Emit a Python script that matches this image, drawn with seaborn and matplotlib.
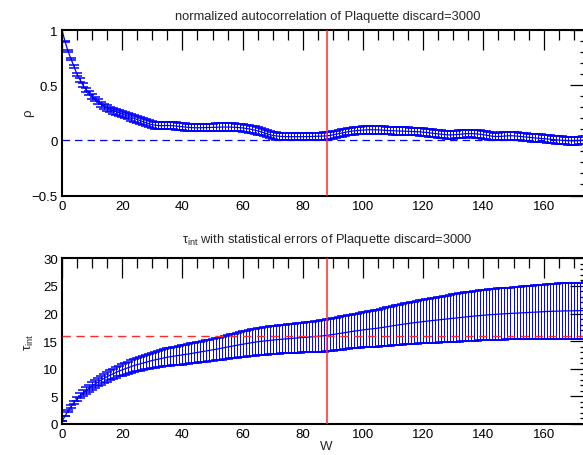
import matplotlib
matplotlib.use("Agg")
import matplotlib.pyplot as plt
import seaborn as sns
import pandas as pd
from matplotlib.ticker import MultipleLocator, FuncFormatter

# ---------------- data ----------------
W = list(range(176))

rho = [
    1.0, 0.9, 0.81, 0.74, 0.67, 0.6, 0.55, 0.5, 0.46, 0.43,
    0.4, 0.375, 0.35, 0.33, 0.31, 0.295, 0.28, 0.27, 0.26, 0.25,
    0.24, 0.23, 0.22, 0.21, 0.2, 0.19, 0.18, 0.17, 0.16, 0.15,
    0.143, 0.138, 0.135, 0.134, 0.135, 0.136, 0.135, 0.133, 0.13, 0.127,
    0.124, 0.121, 0.118, 0.116, 0.115, 0.115, 0.115, 0.116, 0.117, 0.118,
    0.119, 0.12, 0.121, 0.122, 0.122, 0.122, 0.121, 0.12, 0.118, 0.116,
    0.114, 0.11, 0.105, 0.1, 0.094, 0.087, 0.079, 0.07, 0.061, 0.053,
    0.046, 0.041, 0.038, 0.036, 0.035, 0.034, 0.034, 0.034, 0.034, 0.034,
    0.034, 0.035, 0.035, 0.036, 0.036, 0.037, 0.038, 0.039, 0.041, 0.045,
    0.05, 0.056, 0.062, 0.068, 0.074, 0.079, 0.083, 0.087, 0.09, 0.092,
    0.094, 0.096, 0.097, 0.097, 0.097, 0.096, 0.094, 0.092, 0.09, 0.089,
    0.088, 0.087, 0.086, 0.085, 0.084, 0.083, 0.082, 0.081, 0.08, 0.078,
    0.076, 0.073, 0.069, 0.065, 0.062, 0.059, 0.056, 0.053, 0.051, 0.05,
    0.051, 0.053, 0.056, 0.059, 0.061, 0.062, 0.062, 0.061, 0.059, 0.056,
    0.052, 0.047, 0.042, 0.038, 0.036, 0.036, 0.038, 0.04, 0.042, 0.043,
    0.042, 0.04, 0.037, 0.033, 0.03, 0.027, 0.025, 0.023, 0.021, 0.019,
    0.017, 0.014, 0.011, 0.008, 0.005, 0.003, 0.001, -0.001, -0.002, -0.003,
    -0.003, -0.002, 0.0, 0.002, 0.004, 0.005,
]

rho_err = [
    0.0, 0.004, 0.007, 0.009, 0.011, 0.013, 0.015, 0.017, 0.018, 0.019,
    0.02, 0.021, 0.022, 0.023, 0.024, 0.025, 0.026, 0.027, 0.027, 0.028,
    0.028, 0.029, 0.029, 0.03, 0.03, 0.03, 0.031, 0.031, 0.031, 0.032,
    0.032, 0.032, 0.032, 0.033, 0.033, 0.033, 0.033, 0.033, 0.033, 0.033,
    0.033, 0.033, 0.033, 0.033, 0.033, 0.033, 0.033, 0.033, 0.033, 0.033,
    0.034, 0.034, 0.034, 0.034, 0.034, 0.034, 0.034, 0.034, 0.034, 0.034,
    0.034, 0.034, 0.034, 0.034, 0.034, 0.034, 0.034, 0.034, 0.034, 0.034,
    0.034, 0.034, 0.034, 0.034, 0.034, 0.034, 0.034, 0.034, 0.034, 0.034,
    0.034, 0.034, 0.034, 0.034, 0.034, 0.034, 0.034, 0.034, 0.034, 0.034,
    0.034, 0.034, 0.034, 0.034, 0.034, 0.034, 0.034, 0.034, 0.034, 0.034,
    0.035, 0.035, 0.035, 0.035, 0.035, 0.035, 0.035, 0.035, 0.035, 0.035,
    0.035, 0.035, 0.035, 0.035, 0.035, 0.035, 0.035, 0.035, 0.035, 0.035,
    0.035, 0.035, 0.035, 0.035, 0.035, 0.035, 0.035, 0.035, 0.035, 0.035,
    0.035, 0.035, 0.035, 0.035, 0.035, 0.035, 0.035, 0.035, 0.035, 0.035,
    0.035, 0.035, 0.035, 0.035, 0.035, 0.035, 0.035, 0.035, 0.035, 0.035,
    0.035, 0.035, 0.035, 0.035, 0.035, 0.035, 0.035, 0.035, 0.035, 0.035,
    0.035, 0.035, 0.035, 0.035, 0.035, 0.035, 0.035, 0.035, 0.035, 0.035,
    0.035, 0.035, 0.035, 0.035, 0.035, 0.035,
]

tau = [
    0.5, 1.45, 2.35, 3.15, 3.9, 4.55, 5.1, 5.6, 6.05, 6.5,
    6.9, 7.25, 7.6, 7.95, 8.25, 8.55, 8.85, 9.1, 9.35, 9.6,
    9.8, 10.0, 10.2, 10.4, 10.6, 10.75, 10.9, 11.05, 11.2, 11.35,
    11.5, 11.62, 11.74, 11.86, 11.98, 12.1, 12.18, 12.26, 12.34, 12.42,
    12.5, 12.59, 12.68, 12.77, 12.86, 12.95, 13.04, 13.13, 13.22, 13.31,
    13.4, 13.51, 13.62, 13.73, 13.84, 13.95, 14.05, 14.15, 14.25, 14.35,
    14.45, 14.54, 14.63, 14.72, 14.81, 14.9, 14.96, 15.02, 15.08, 15.14,
    15.2, 15.25, 15.3, 15.35, 15.4, 15.45, 15.49, 15.53, 15.57, 15.61,
    15.65, 15.69, 15.73, 15.77, 15.81, 15.85, 15.91, 15.98, 16.05, 16.12,
    16.2, 16.29, 16.38, 16.47, 16.56, 16.65, 16.73, 16.81, 16.89, 16.97,
    17.05, 17.11, 17.17, 17.23, 17.29, 17.35, 17.44, 17.53, 17.62, 17.71,
    17.8, 17.88, 17.96, 18.04, 18.12, 18.2, 18.27, 18.34, 18.41, 18.48,
    18.55, 18.61, 18.67, 18.73, 18.79, 18.85, 18.91, 18.97, 19.03, 19.09,
    19.15, 19.21, 19.27, 19.33, 19.39, 19.45, 19.5, 19.55, 19.6, 19.65,
    19.7, 19.74, 19.78, 19.82, 19.86, 19.9, 19.93, 19.96, 19.99, 20.02,
    20.05, 20.08, 20.11, 20.14, 20.17, 20.2, 20.23, 20.26, 20.29, 20.32,
    20.35, 20.37, 20.39, 20.41, 20.43, 20.45, 20.46, 20.47, 20.48, 20.49,
    20.5, 20.51, 20.52, 20.53, 20.54, 20.55,
]

tau_err = [
    0.0, 0.06, 0.12, 0.2, 0.28, 0.36, 0.43, 0.5, 0.56, 0.62,
    0.68, 0.72, 0.76, 0.8, 0.84, 0.87, 0.9, 0.93, 0.96, 0.99,
    1.02, 1.05, 1.08, 1.12, 1.16, 1.2, 1.24, 1.28, 1.32, 1.36,
    1.4, 1.44, 1.48, 1.52, 1.56, 1.6, 1.63, 1.66, 1.69, 1.72,
    1.75, 1.77, 1.79, 1.81, 1.83, 1.85, 1.87, 1.89, 1.91, 1.93,
    1.95, 1.99, 2.03, 2.07, 2.11, 2.15, 2.18, 2.21, 2.24, 2.27,
    2.3, 2.33, 2.36, 2.39, 2.42, 2.45, 2.47, 2.49, 2.51, 2.53,
    2.55, 2.56, 2.57, 2.58, 2.59, 2.6, 2.62, 2.64, 2.66, 2.68,
    2.7, 2.72, 2.74, 2.76, 2.79, 2.82, 2.85, 2.88, 2.9, 2.92,
    2.94, 2.96, 2.98, 3.0, 3.0, 3.01, 3.04, 3.07, 3.1, 3.13,
    3.16, 3.2, 3.24, 3.28, 3.32, 3.36, 3.4, 3.44, 3.48, 3.52,
    3.56, 3.6, 3.64, 3.68, 3.72, 3.76, 3.79, 3.82, 3.85, 3.88,
    3.91, 3.95, 3.99, 4.03, 4.07, 4.11, 4.15, 4.19, 4.23, 4.27,
    4.3, 4.33, 4.36, 4.39, 4.42, 4.45, 4.47, 4.49, 4.51, 4.53,
    4.55, 4.57, 4.59, 4.61, 4.63, 4.65, 4.66, 4.67, 4.68, 4.69,
    4.7, 4.72, 4.74, 4.76, 4.78, 4.8, 4.82, 4.84, 4.86, 4.88,
    4.9, 4.92, 4.94, 4.96, 4.98, 5.0, 5.01, 5.02, 5.03, 5.04,
    5.05, 5.06, 5.07, 5.08, 5.09, 5.1,
]

W_CUT = 88
TAU_EST = 16.0
TITLE_TOP = "normalized autocorrelation of Plaquette discard=3000"
TITLE_BOT = r"$\mathrm{\tau}_{\mathrm{int}}$ with statistical errors of Plaquette discard=3000"

# ---------------- style ----------------
sns.set_theme(style="white")
plt.rcParams["font.family"] = ["Liberation Sans", "DejaVu Sans"]
plt.rcParams["mathtext.fontset"] = "custom"
plt.rcParams["mathtext.rm"] = "Liberation Sans"
plt.rcParams["mathtext.it"] = "Liberation Sans:italic"

BLUE = "#0000ff"
RED = "#ff2a2a"

fig = plt.figure(figsize=(5.83, 4.56), dpi=100)
FW, FH = 583.0, 456.0
x_left, x_right = 62.0, 590.0
ax1 = fig.add_axes([x_left / FW, 1 - 196.5 / FH, (x_right - x_left) / FW, (196.5 - 31.3) / FH])
ax2 = fig.add_axes([x_left / FW, 1 - 425.0 / FH, (x_right - x_left) / FW, (425.0 - 259.3) / FH])


def long_frame(vals, errs):
    lo = [v - e for v, e in zip(vals, errs)]
    hi = [v + e for v, e in zip(vals, errs)]
    return pd.DataFrame({"W": W + W, "v": lo + hi})


err_kws = dict(capsize=3.4, elinewidth=0.7, capthick=1.1)

sns.lineplot(data=long_frame(rho, rho_err), x="W", y="v", estimator="mean",
             errorbar=("pi", 100), err_style="bars", color=BLUE, lw=0.9,
             err_kws=err_kws, ax=ax1)
sns.lineplot(data=long_frame(tau, tau_err), x="W", y="v", estimator="mean",
             errorbar=("pi", 100), err_style="bars", color=BLUE, lw=0.9,
             err_kws=err_kws, ax=ax2)

ax1.axhline(0, color=BLUE, lw=0.9, ls=(0, (6, 4)), zorder=1)
ax2.axhline(TAU_EST, color=RED, lw=1.0, ls=(0, (6, 4)), zorder=3)
for ax in (ax1, ax2):
    ax.axvline(W_CUT, color=RED, lw=1.1, zorder=4)

xmax = (x_right - x_left) / 3.01
ax1.set_xlim(0, xmax)
ax2.set_xlim(0, xmax)
ax1.set_ylim(-0.5, 1.0)
ax2.set_ylim(0, 30)

fmt = FuncFormatter(lambda v, p: f"{v:g}".replace("-", "\u2212"))
for ax, (maj, mnr) in ((ax1, (0.5, 0.1)), (ax2, (5, 1))):
    ax.xaxis.set_major_locator(MultipleLocator(20))
    ax.xaxis.set_minor_locator(MultipleLocator(5))
    ax.yaxis.set_major_locator(MultipleLocator(maj))
    ax.yaxis.set_minor_locator(MultipleLocator(mnr))
    ax.xaxis.set_major_formatter(fmt)
    ax.yaxis.set_major_formatter(fmt)
    ax.tick_params(which="both", direction="in", top=True, right=True,
                   color="black", width=0.9, labelsize=9.5, labelcolor="black")
    ax.tick_params(which="major", length=14.4, pad=3)
    ax.tick_params(which="minor", length=7.2)
    for s in ax.spines.values():
        s.set_color("black")
        s.set_linewidth(1.5)
    ax.set_xlabel("")
    ax.set_ylabel("")
    ax.set_facecolor("white")

fig.text(327.5 / FW, 1 - 17 / FH, TITLE_TOP, ha="center", va="center", fontsize=9.3)
fig.text(327.5 / FW, 1 - 240 / FH, TITLE_BOT, ha="center", va="center", fontsize=9.3)
fig.text(28 / FW, 1 - 113 / FH, "ρ", rotation=90, ha="center", va="center", fontsize=9.5)
fig.text(29 / FW, 1 - 342 / FH, r"$\mathrm{\tau}_{\mathrm{int}}$", rotation=90,
         ha="center", va="center", fontsize=9.5)
fig.text(326 / FW, 1 - 447 / FH, "W", ha="center", va="center", fontsize=9.5)

fig.savefig("out.png", dpi=100, facecolor="white")
